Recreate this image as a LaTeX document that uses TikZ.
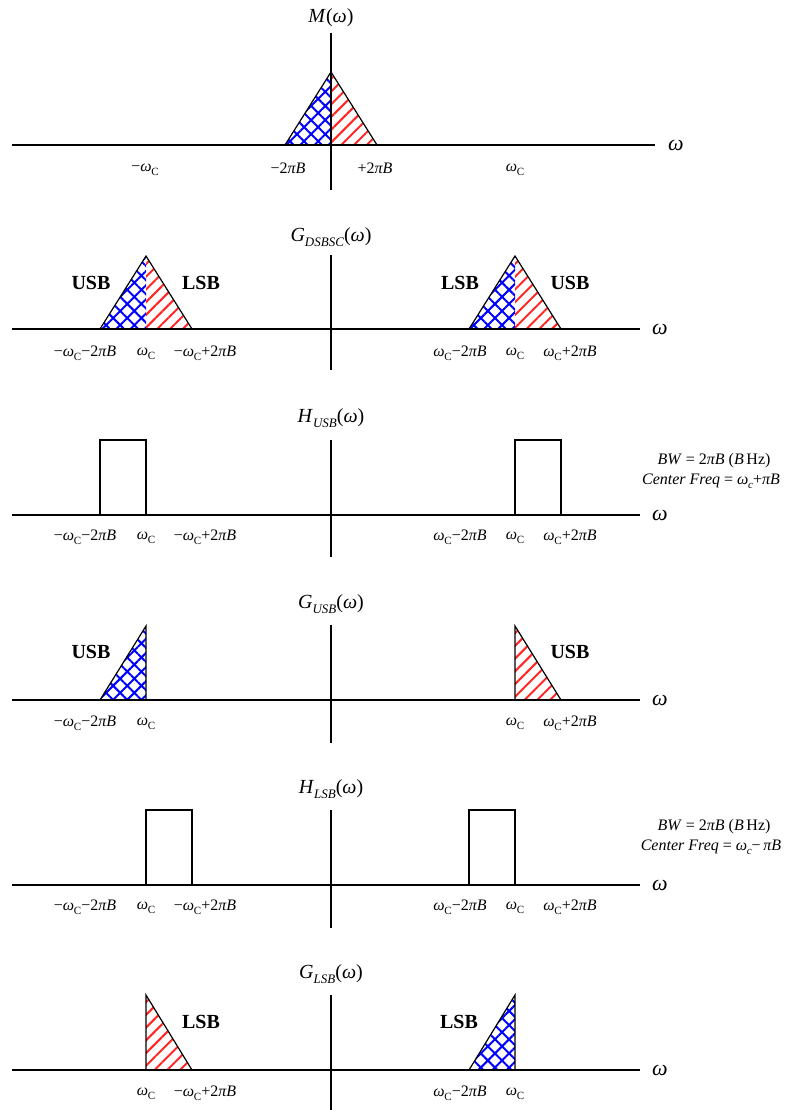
\documentclass[tikz,border=0pt]{standalone}
\usepackage{fontspec}
\setmainfont{Liberation Serif}
\usetikzlibrary{patterns.meta}

% omega with an upright capital C subscript, and other small helpers
\newcommand{\wcap}{\textit{ω}\kern-0.3pt\raisebox{-0.55ex}{\fontsize{11}{11}\selectfont C}}
\newcommand{\wlow}{\textit{ω}\kern-0.3pt\raisebox{-0.6ex}{\fontsize{11}{11}\selectfont\textit{c}}}
\newcommand{\tpB}{2\textit{πB}}
\newcommand{\fsub}[1]{\raisebox{-0.55ex}{\fontsize{13}{13}\selectfont\textit{#1}}}

\tikzset{
  axisline/.style={line width=1.3pt},
  edge/.style={line width=1.2pt, line join=miter},
  upperfill/.style={pattern={Hatch[angle=45,distance=10pt,line width=2pt]}, pattern color=blue},
  lowerfill/.style={pattern={Lines[angle=45,distance=9pt,line width=2pt]}, pattern color=red!85},
  tick/.style={font=\fontsize{16}{16}\selectfont, inner sep=0pt},
  title/.style={font=\fontsize{20}{20}\selectfont, inner sep=0pt},
  band/.style={font=\bfseries\fontsize{20}{20}\selectfont, inner sep=0pt},
  wlabel/.style={font=\fontsize{22}{22}\selectfont\itshape, inner sep=0pt},
  note/.style={font=\fontsize{16}{16}\selectfont, inner sep=0pt},
}

\begin{document}
\begin{tikzpicture}[x=1pt,y=-1pt]
\useasboundingbox (0,0) rectangle (789,1110);

% ---------- M(omega) ----------
\coordinate (a1l) at (12,145);  \coordinate (a1r) at (655,145);
\coordinate (v1t) at (331,33);  \coordinate (v1b) at (331,190);
\fill[upperfill] (285,145) -- (331,72) -- (331,145) -- cycle;
\fill[lowerfill] (331,145) -- (331,72) -- (377,145) -- cycle;
\draw[axisline] (a1l) -- (a1r);
\draw[axisline] (v1t) -- (v1b);
\draw[edge] (285,145) -- (331,72) -- (377,145);
\node[title] (t1) at (331,18) {\textit{M}(\textit{ω})};
\node[wlabel] (w1) at (676,145) {ω};
\node[tick] (l1a) at (145,170) {−\wcap};
\node[tick] (l1b) at (288,168) {−\tpB};
\node[tick] (l1c) at (375,168) {+\tpB};
\node[tick] (l1d) at (515,170) {\wcap};

% ---------- G_DSBSC(omega) ----------
\coordinate (a2l) at (12,329);  \coordinate (a2r) at (640,329);
\coordinate (v2t) at (331,255); \coordinate (v2b) at (331,370);
\fill[upperfill] (100,329) -- (146,256) -- (146,329) -- cycle;
\fill[lowerfill] (146,329) -- (146,256) -- (192,329) -- cycle;
\fill[upperfill] (469,329) -- (515,256) -- (515,329) -- cycle;
\fill[lowerfill] (515,329) -- (515,256) -- (561,329) -- cycle;
\draw[axisline] (a2l) -- (a2r);
\draw[axisline] (v2t) -- (v2b);
\draw[edge] (100,329) -- (146,256) -- (192,329);
\draw[edge] (469,329) -- (515,256) -- (561,329);
\node[title] (t2) at (331,237) {\textit{G}\fsub{DSBSC}(\textit{ω})};
\node[wlabel] (w2) at (660,329) {ω};
\node[band] (b2a) at (91,283) {USB};
\node[band] (b2b) at (201,283) {LSB};
\node[band] (b2c) at (460,283) {LSB};
\node[band] (b2d) at (570,283) {USB};
\node[tick] (l2a) at (85,353) {−\wcap−\tpB};
\node[tick] (l2b) at (146,354) {\wcap};
\node[tick] (l2c) at (205,353) {−\wcap+\tpB};
\node[tick] (l2d) at (460,353) {\wcap−\tpB};
\node[tick] (l2e) at (515,354) {\wcap};
\node[tick] (l2f) at (570,353) {\wcap+\tpB};

% ---------- H_USB(omega) ----------
\coordinate (a3l) at (12,515);  \coordinate (a3r) at (640,515);
\coordinate (v3t) at (331,440); \coordinate (v3b) at (331,557);
\draw[axisline] (a3l) -- (a3r);
\draw[axisline] (v3t) -- (v3b);
\draw[edge] (100,515) -- (100,440) -- (146,440) -- (146,515);
\draw[edge] (515,515) -- (515,440) -- (561,440) -- (561,515);
\node[title] (t3) at (331,418) {\textit{H}\fsub{USB}(\textit{ω})};
\node[wlabel] (w3) at (660,515) {ω};
\node[tick] (l3a) at (85,537) {−\wcap−\tpB};
\node[tick] (l3b) at (146,538) {\wcap};
\node[tick] (l3c) at (205,537) {−\wcap+\tpB};
\node[tick] (l3d) at (460,537) {\wcap−\tpB};
\node[tick] (l3e) at (515,538) {\wcap};
\node[tick] (l3f) at (570,537) {\wcap+\tpB};
\node[note] (n3a) at (714,461) {\textit{BW} = 2\textit{πB} (\textit{B}\,Hz)};
\node[note] (n3b) at (711,481) {\textit{Center Freq} = \wlow+\textit{πB}};

% ---------- G_USB(omega) ----------
\coordinate (a4l) at (12,700);  \coordinate (a4r) at (640,700);
\coordinate (v4t) at (331,625); \coordinate (v4b) at (331,743);
\fill[upperfill] (100,700) -- (146,626) -- (146,700) -- cycle;
\fill[lowerfill] (515,700) -- (515,626) -- (561,700) -- cycle;
\draw[axisline] (a4l) -- (a4r);
\draw[axisline] (v4t) -- (v4b);
\draw[edge] (100,700) -- (146,626) -- (146,700);
\draw[edge] (515,700) -- (515,626) -- (561,700);
\node[title] (t4) at (331,604) {\textit{G}\fsub{USB}(\textit{ω})};
\node[wlabel] (w4) at (660,700) {ω};
\node[band] (b4a) at (91,652) {USB};
\node[band] (b4b) at (570,652) {USB};
\node[tick] (l4a) at (85,723) {−\wcap−\tpB};
\node[tick] (l4b) at (146,724) {\wcap};
\node[tick] (l4c) at (515,724) {\wcap};
\node[tick] (l4d) at (570,723) {\wcap+\tpB};

% ---------- H_LSB(omega) ----------
\coordinate (a5l) at (12,885);  \coordinate (a5r) at (640,885);
\coordinate (v5t) at (331,810); \coordinate (v5b) at (331,928);
\draw[axisline] (a5l) -- (a5r);
\draw[axisline] (v5t) -- (v5b);
\draw[edge] (146,885) -- (146,810) -- (192,810) -- (192,885);
\draw[edge] (469,885) -- (469,810) -- (515,810) -- (515,885);
\node[title] (t5) at (331,789) {\textit{H}\fsub{LSB}(\textit{ω})};
\node[wlabel] (w5) at (660,885) {ω};
\node[tick] (l5a) at (85,907) {−\wcap−\tpB};
\node[tick] (l5b) at (146,908) {\wcap};
\node[tick] (l5c) at (205,907) {−\wcap+\tpB};
\node[tick] (l5d) at (460,907) {\wcap−\tpB};
\node[tick] (l5e) at (515,908) {\wcap};
\node[tick] (l5f) at (570,907) {\wcap+\tpB};
\node[note] (n5a) at (714,827) {\textit{BW} = 2\textit{πB} (\textit{B}\,Hz)};
\node[note] (n5b) at (711,847) {\textit{Center Freq} = \wlow−\,\textit{πB}};

% ---------- G_LSB(omega) ----------
\coordinate (a6l) at (12,1070);  \coordinate (a6r) at (640,1070);
\coordinate (v6t) at (331,995);  \coordinate (v6b) at (331,1110);
\fill[lowerfill] (146,1070) -- (146,995) -- (192,1070) -- cycle;
\fill[upperfill] (469,1070) -- (515,995) -- (515,1070) -- cycle;
\draw[axisline] (a6l) -- (a6r);
\draw[axisline] (v6t) -- (v6b);
\draw[edge] (146,1070) -- (146,995) -- (192,1070);
\draw[edge] (469,1070) -- (515,995) -- (515,1070);
\node[title] (t6) at (331,974) {\textit{G}\fsub{LSB}(\textit{ω})};
\node[wlabel] (w6) at (660,1070) {ω};
\node[band] (b6a) at (201,1022) {LSB};
\node[band] (b6b) at (459,1022) {LSB};
\node[tick] (l6a) at (146,1094) {\wcap};
\node[tick] (l6b) at (205,1093) {−\wcap+\tpB};
\node[tick] (l6c) at (460,1093) {\wcap−\tpB};
\node[tick] (l6d) at (515,1094) {\wcap};
\end{tikzpicture}
\end{document}
